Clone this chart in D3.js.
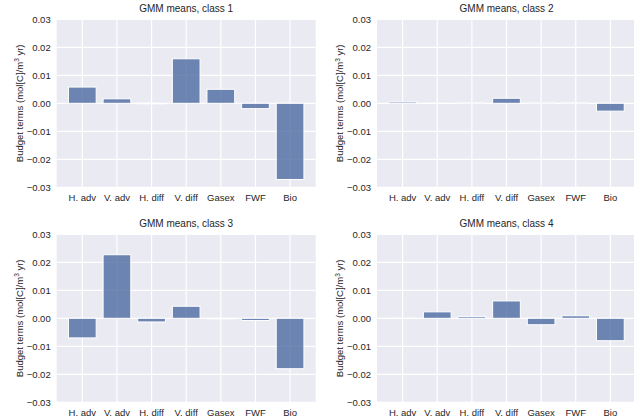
<!DOCTYPE html>
<html>
<head>
<meta charset="utf-8">
<script src="https://cdn.jsdelivr.net/npm/d3@7"></script>
<style>
  body { margin: 0; background: #fff; }
  svg { display: block; font-family: "Liberation Sans", Arial, sans-serif; }
</style>
</head>
<body>
<svg width="634" height="419"></svg>
<script>
const categories = ["H. adv", "V. adv", "H. diff", "V. diff", "Gasex", "FWF", "Bio"];
const class1 = [0.0058, 0.0016, -0.0003, 0.0159, 0.0050, -0.0019, -0.0272];
const class2 = [0.0005, -0.0001, 0.0001, 0.0018, 0.0002, 0.0001, -0.0028];
const class3 = [-0.0070, 0.0227, -0.0013, 0.0043, -0.0002, -0.0008, -0.0180];
const class4 = [-0.0001, 0.0023, 0.0006, 0.0062, -0.0023, 0.0009, -0.0080];
const yTicks = [-0.03, -0.02, -0.01, 0.00, 0.01, 0.02, 0.03];
const titles = ["GMM means, class 1", "GMM means, class 2", "GMM means, class 3", "GMM means, class 4"];

const svg = d3.select("svg");

// plot area boxes (left, top)
const panels = [
    { x: 56.7, y: 19.3, values: class1 },
    { x: 377, y: 19.3, values: class2 },
    { x: 56.7, y: 234.3, values: class3 },
    { x: 377, y: 234.3, values: class4 }
];
const pw = 259, ph = 168;

const fmt = v => d3.format(".2f")(v).replace("-", "\u2212");

panels.forEach((p, i) => {
    const g = svg.append("g").attr("transform", `translate(${p.x},${p.y})`);

    const x = d3.scaleBand().domain(categories).range([0, pw])
        .paddingInner(0.2).paddingOuter(0.34);
    const y = d3.scaleLinear().domain([-0.03, 0.03]).range([ph, 0]);

    g.append("rect").attr("width", pw).attr("height", ph).attr("fill", "#eaeaf2");

    // grid
    g.selectAll(".hgrid").data(yTicks).enter().append("line")
        .attr("x1", 0).attr("x2", pw)
        .attr("y1", d => y(d)).attr("y2", d => y(d))
        .attr("stroke", "#fff").attr("stroke-width", 1.2);
    g.selectAll(".vgrid").data(categories).enter().append("line")
        .attr("y1", 0).attr("y2", ph)
        .attr("x1", d => x(d) + x.bandwidth() / 2).attr("x2", d => x(d) + x.bandwidth() / 2)
        .attr("stroke", "#fff").attr("stroke-width", 1.2);

    // bars
    g.selectAll(".bar").data(p.values).enter().append("rect")
        .attr("x", (d, j) => x(categories[j]))
        .attr("width", x.bandwidth())
        .attr("y", d => y(Math.max(0, d)))
        .attr("height", d => Math.abs(y(d) - y(0)))
        .attr("fill", "#4c6aa0").attr("fill-opacity", 0.8)
        .attr("stroke", "#fff").attr("stroke-width", 1);

    // y ticks
    g.selectAll(".ytick").data(yTicks).enter().append("text")
        .attr("x", -6).attr("y", d => y(d)).attr("dy", "0.35em")
        .attr("text-anchor", "end").attr("font-size", 9.5).attr("fill", "#262626")
        .text(fmt);

    // x ticks
    g.selectAll(".xtick").data(categories).enter().append("text")
        .attr("x", d => x(d) + x.bandwidth() / 2).attr("y", ph + 10.5).attr("dy", "0.35em")
        .attr("text-anchor", "middle").attr("font-size", 9.5).attr("fill", "#262626")
        .text(d => d);

    // title
    g.append("text").attr("x", pw / 2).attr("y", -7)
        .attr("text-anchor", "middle").attr("font-size", 10).attr("fill", "#262626")
        .text(titles[i]);

    // y label
    const yl = g.append("text")
        .attr("transform", `translate(-37.5,${ph / 2}) rotate(-90)`)
        .attr("text-anchor", "middle").attr("dy", "0.35em")
        .attr("font-size", 9.5).attr("fill", "#262626");
    yl.append("tspan").text("Budget terms (mol[C]/m");
    yl.append("tspan").attr("font-size", 6.5).attr("dy", "-0.5em").text("3");
    yl.append("tspan").attr("dy", "0.35em").text(" yr)");
});
</script>
</body>
</html>
